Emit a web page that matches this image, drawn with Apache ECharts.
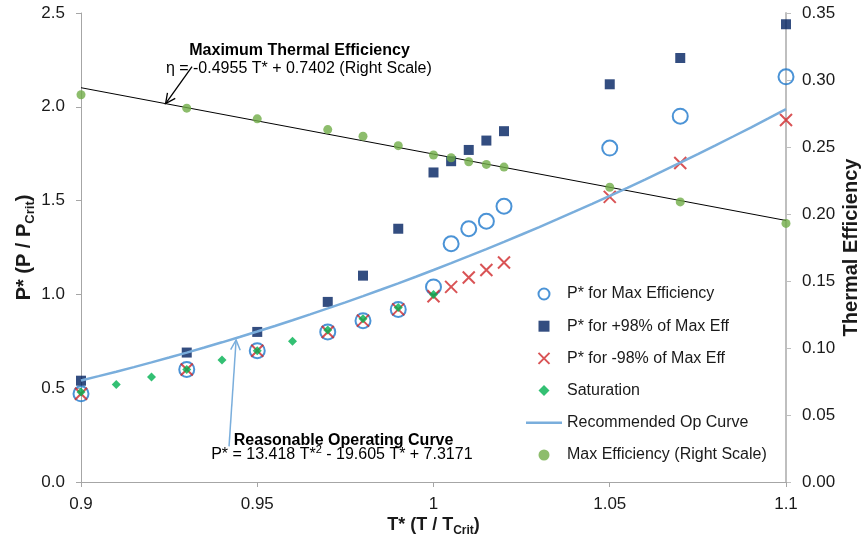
<!DOCTYPE html>
<html>
<head>
<meta charset="utf-8">
<title>Operating pressure vs. reduced temperature</title>
<script src="https://cdn.jsdelivr.net/npm/echarts@6/dist/echarts.min.js"></script>
<style>
  html, body { margin: 0; padding: 0; background: #ffffff; }
  #chart { width: 863px; height: 548px; }
</style>
</head>
<body>
<div id="chart"></div>
<script>
// Reduced temperature T* = T / Tcrit for the optimisation points
const reducedTemp = [0.9, 0.93, 0.95, 0.97, 0.98, 0.99, 1.0, 1.005, 1.01, 1.015, 1.02, 1.05, 1.07, 1.1];
// Reduced pressure P* giving maximum efficiency
const pStarMaxEff = [0.47, 0.60, 0.70, 0.80, 0.86, 0.92, 1.04, 1.27, 1.35, 1.39, 1.47, 1.78, 1.95, 2.16];
// Upper P* where efficiency is still 98 % of the maximum
const pStarPlus98 = [0.54, 0.69, 0.80, 0.96, 1.10, 1.35, 1.65, 1.71, 1.77, 1.82, 1.87, 2.12, 2.26, 2.44];
// Lower P* where efficiency is still 98 % of the maximum
const pStarMinus98 = [0.47, 0.60, 0.70, 0.80, 0.86, 0.92, 0.99, 1.04, 1.09, 1.13, 1.17, 1.52, 1.70, 1.93];
// Maximum thermal efficiency (right scale)
const maxEfficiency = [0.289, 0.279, 0.271, 0.263, 0.258, 0.251, 0.244, 0.242, 0.239, 0.237, 0.235, 0.220, 0.209, 0.193];

// Saturation line
const satTemp = [0.9, 0.91, 0.92, 0.93, 0.94, 0.95, 0.96, 0.97, 0.98, 0.99, 1.0];
const satPressure = [0.48, 0.52, 0.56, 0.60, 0.65, 0.70, 0.75, 0.81, 0.87, 0.93, 1.0];

// Fitted curves as labelled on the chart
const opCurveCoef = [13.418, -19.605, 7.3171];   // P* = a T*^2 + b T* + c
const effFitCoef = [-0.4955, 0.7402];            // eta = m T* + k

// Axis tick values
const xTicks = [0.9, 0.95, 1.0, 1.05, 1.1];
const leftTicks = [0, 0.5, 1.0, 1.5, 2.0, 2.5];
const rightTicks = [0, 0.05, 0.10, 0.15, 0.20, 0.25, 0.30, 0.35];

const names = {
  maxEff: 'P* for Max Efficiency',
  plus: 'P* for +98% of Max Eff',
  minus: 'P* for -98% of Max Eff',
  sat: 'Saturation',
  op: 'Recommended Op Curve',
  eff: 'Max Efficiency (Right Scale)'
};

const FONT = '"Liberation Sans", Arial, Helvetica, sans-serif';
const COLORS = {
  circle: '#1E78CC',
  square: '#002060',
  cross: '#D0282A',
  diamond: '#00B050',
  curve: '#7AAEDC',
  effDot: '#70AD47',
  axis: '#A6A6A6',
  text: '#1A1A1A'
};

const pairs = (xs, ys) => xs.map((x, i) => [x, ys[i]]);
const opCurve = t => opCurveCoef[0] * t * t + opCurveCoef[1] * t + opCurveCoef[2];
const effFit = t => effFitCoef[0] * t + effFitCoef[1];

// Sample the recommended operating curve across the x range
const opCurveData = [];
for (let i = 0; i <= 40; i++) {
  const t = xTicks[0] + (xTicks[xTicks.length - 1] - xTicks[0]) * i / 40;
  opCurveData.push([t, opCurve(t)]);
}
const effFitData = [xTicks[0], xTicks[xTicks.length - 1]].map(t => [t, effFit(t)]);

// Marker shapes (paths keep their aspect ratio in the legend)
const crossPath = 'path://M0,0L10,10M0,10L10,0';
const squarePath = 'path://M0,0L10,0L10,10L0,10Z';
const diamondPath = 'path://M5,0L10,5L5,10L0,5Z';
const lineIconPath = 'path://M0,0L36,0L36,2.5L0,2.5Z';

const chart = echarts.init(document.getElementById('chart'), null, { renderer: 'canvas' });

const axisLabelBase = { fontSize: 17, fontFamily: FONT, color: COLORS.text };

const option = {
  animation: false,
  backgroundColor: '#ffffff',
  textStyle: { fontFamily: FONT },
  grid: { left: 81, right: 77, top: 13, bottom: 66, containLabel: false, outerBoundsMode: 'none' },
  legend: {
    orient: 'vertical',
    left: 521,
    top: 281,
    itemWidth: 36,
    itemHeight: 11,
    itemGap: 16.2,
    symbolKeepAspect: true,
    textStyle: { fontSize: 16, fontFamily: FONT, color: COLORS.text },
    data: [
      { name: names.maxEff },
      { name: names.plus, icon: squarePath },
      { name: names.minus },
      { name: names.sat, icon: diamondPath },
      { name: names.op, icon: lineIconPath },
      { name: names.eff }
    ]
  },
  xAxis: {
    type: 'value',
    min: xTicks[0],
    max: xTicks[xTicks.length - 1],
    interval: 0.05,
    splitLine: { show: false },
    axisLine: { lineStyle: { color: COLORS.axis, width: 1 } },
    axisTick: { show: true, inside: false, length: 5, lineStyle: { color: COLORS.axis } },
    axisLabel: Object.assign({}, axisLabelBase, {
      margin: 14,
      formatter: v => String(+v.toFixed(2))
    }),
    name: '{b|T* (T / T}{s|Crit}{b|)}',
    nameLocation: 'middle',
    nameGap: 31,
    nameMoveOverlap: false,
    nameTextStyle: {
      rich: {
        b: { fontSize: 18, fontWeight: 'bold', fontFamily: FONT, color: COLORS.text, lineHeight: 24 },
        s: { fontSize: 12, fontWeight: 'bold', fontFamily: FONT, color: COLORS.text, lineHeight: 14, verticalAlign: 'bottom' }
      }
    }
  },
  yAxis: [
    {
      type: 'value',
      position: 'left',
      min: leftTicks[0],
      max: leftTicks[leftTicks.length - 1],
      interval: 0.5,
      splitLine: { show: false },
      axisLine: { show: true, lineStyle: { color: COLORS.axis, width: 1 } },
      axisTick: { show: true, inside: false, length: 5, lineStyle: { color: COLORS.axis } },
      axisLabel: Object.assign({}, axisLabelBase, { margin: 16, formatter: v => v.toFixed(1) }),
      name: '{b|P* (P / P}{s|Crit}{b|)}',
      nameLocation: 'middle',
      nameGap: 44,
      nameMoveOverlap: false,
      nameTextStyle: {
        rich: {
          b: { fontSize: 20, fontWeight: 'bold', fontFamily: FONT, color: COLORS.text, lineHeight: 26 },
          s: { fontSize: 13, fontWeight: 'bold', fontFamily: FONT, color: COLORS.text, lineHeight: 15, verticalAlign: 'bottom' }
        }
      }
    },
    {
      type: 'value',
      position: 'right',
      min: rightTicks[0],
      max: rightTicks[rightTicks.length - 1],
      interval: 0.05,
      splitLine: { show: false },
      axisLine: { show: true, lineStyle: { color: '#BFBFBF', width: 2 } },
      axisTick: { show: true, inside: false, length: 5, lineStyle: { color: '#BFBFBF', width: 1 } },
      axisLabel: Object.assign({}, axisLabelBase, { margin: 16, formatter: v => v.toFixed(2) }),
      name: 'Thermal Efficiency',
      nameLocation: 'middle',
      nameGap: 55,
      nameRotate: 90,
      nameMoveOverlap: false,
      nameTextStyle: { fontSize: 20, fontWeight: 'bold', fontFamily: FONT, color: COLORS.text }
    }
  ],
  series: [
    {
      name: names.maxEff,
      type: 'scatter',
      yAxisIndex: 0,
      symbol: 'circle',
      symbolSize: 15,
      itemStyle: { color: 'rgba(255,255,255,0)', borderColor: COLORS.circle, borderWidth: 2 },
      data: pairs(reducedTemp, pStarMaxEff),
      z: 2
    },
    {
      name: names.plus,
      type: 'scatter',
      yAxisIndex: 0,
      symbol: squarePath,
      symbolSize: 10,
      itemStyle: { color: COLORS.square },
      data: pairs(reducedTemp, pStarPlus98),
      z: 3
    },
    {
      name: names.minus,
      type: 'scatter',
      yAxisIndex: 0,
      symbol: crossPath,
      symbolSize: 12,
      itemStyle: { color: 'rgba(255,255,255,0)', borderColor: COLORS.cross, borderWidth: 2 },
      data: pairs(reducedTemp, pStarMinus98),
      z: 4
    },
    {
      name: names.sat,
      type: 'scatter',
      yAxisIndex: 0,
      symbol: diamondPath,
      symbolSize: 9,
      itemStyle: { color: COLORS.diamond },
      data: pairs(satTemp, satPressure),
      z: 5
    },
    {
      name: names.op,
      type: 'line',
      yAxisIndex: 0,
      showSymbol: false,
      symbol: 'none',
      smooth: false,
      lineStyle: { color: COLORS.curve, width: 2.5 },
      itemStyle: { color: COLORS.curve },
      data: opCurveData,
      z: 6
    },
    {
      name: names.eff,
      type: 'scatter',
      yAxisIndex: 1,
      symbol: 'circle',
      symbolSize: 9,
      itemStyle: { color: COLORS.effDot },
      data: pairs(reducedTemp, maxEfficiency),
      z: 7
    },
    {
      name: 'Efficiency fit',
      type: 'line',
      yAxisIndex: 1,
      showSymbol: false,
      symbol: 'none',
      lineStyle: { color: '#000000', width: 1 },
      data: effFitData,
      silent: true,
      z: 1
    }
  ]
};

chart.setOption(option);

// Annotation callouts with arrows, placed in data coordinates
function px(point, yAxisIndex) {
  return chart.convertToPixel({ xAxisIndex: 0, yAxisIndex: yAxisIndex }, point);
}

function arrow(tail, tip, color, width) {
  const dx = tip[0] - tail[0], dy = tip[1] - tail[1];
  const len = Math.sqrt(dx * dx + dy * dy);
  const ux = dx / len, uy = dy / len;
  const headLen = 11, spread = 0.45;
  const cos = Math.cos(spread), sin = Math.sin(spread);
  const back1 = [-(ux * cos - uy * sin), -(uy * cos + ux * sin)];
  const back2 = [-(ux * cos + uy * sin), -(uy * cos - ux * sin)];
  return [
    { type: 'line', shape: { x1: tail[0], y1: tail[1], x2: tip[0], y2: tip[1] },
      style: { stroke: color, lineWidth: width }, z: 20 },
    { type: 'polyline', shape: { points: [
        [tip[0] + back1[0] * headLen, tip[1] + back1[1] * headLen],
        tip,
        [tip[0] + back2[0] * headLen, tip[1] + back2[1] * headLen]
      ] }, style: { stroke: color, lineWidth: width, fill: null }, z: 20 }
  ];
}

const effTipT = 0.924;
const effTip = px([effTipT, effFit(effTipT)], 1);
const effTail = px([0.9315, 0.310], 1);

const opTip = px([0.944, 0.757], 0);
const opTail = px([0.942, 0.19], 0);

const title1 = px([0.962, 2.30], 0);
const eq1 = px([0.9618, 2.205], 0);
const title2 = px([0.9745, 0.221], 0);
const eq2 = px([0.974, 0.148], 0);

const annFont = { fontFamily: FONT, fill: '#000000' };

chart.setOption({
  graphic: [
    ...arrow(effTail, effTip, '#000000', 1.3),
    ...arrow(opTail, opTip, COLORS.curve, 1.5),
    { type: 'text', x: title1[0], y: title1[1], z: 21,
      style: Object.assign({ text: 'Maximum Thermal Efficiency', fontSize: 16, fontWeight: 'bold',
        align: 'center', verticalAlign: 'middle' }, annFont) },
    { type: 'text', x: eq1[0], y: eq1[1], z: 21,
      style: Object.assign({ text: 'η = -0.4955 T* + 0.7402 (Right Scale)', fontSize: 16,
        align: 'center', verticalAlign: 'middle' }, annFont) },
    { type: 'text', x: title2[0], y: title2[1], z: 21,
      style: Object.assign({ text: 'Reasonable Operating Curve', fontSize: 16, fontWeight: 'bold',
        align: 'center', verticalAlign: 'middle' }, annFont) },
    { type: 'text', x: eq2[0], y: eq2[1], z: 21,
      style: Object.assign({
        text: '{n|P* = 13.418 T*}{sup|2}{n| - 19.605 T* + 7.3171}',
        align: 'center', verticalAlign: 'middle',
        rich: {
          n: { fontSize: 16, fontFamily: FONT, fill: '#000000', lineHeight: 20 },
          sup: { fontSize: 11, fontFamily: FONT, fill: '#000000', lineHeight: 12, verticalAlign: 'top' }
        }
      }, annFont) }
  ]
});
</script>
</body>
</html>
